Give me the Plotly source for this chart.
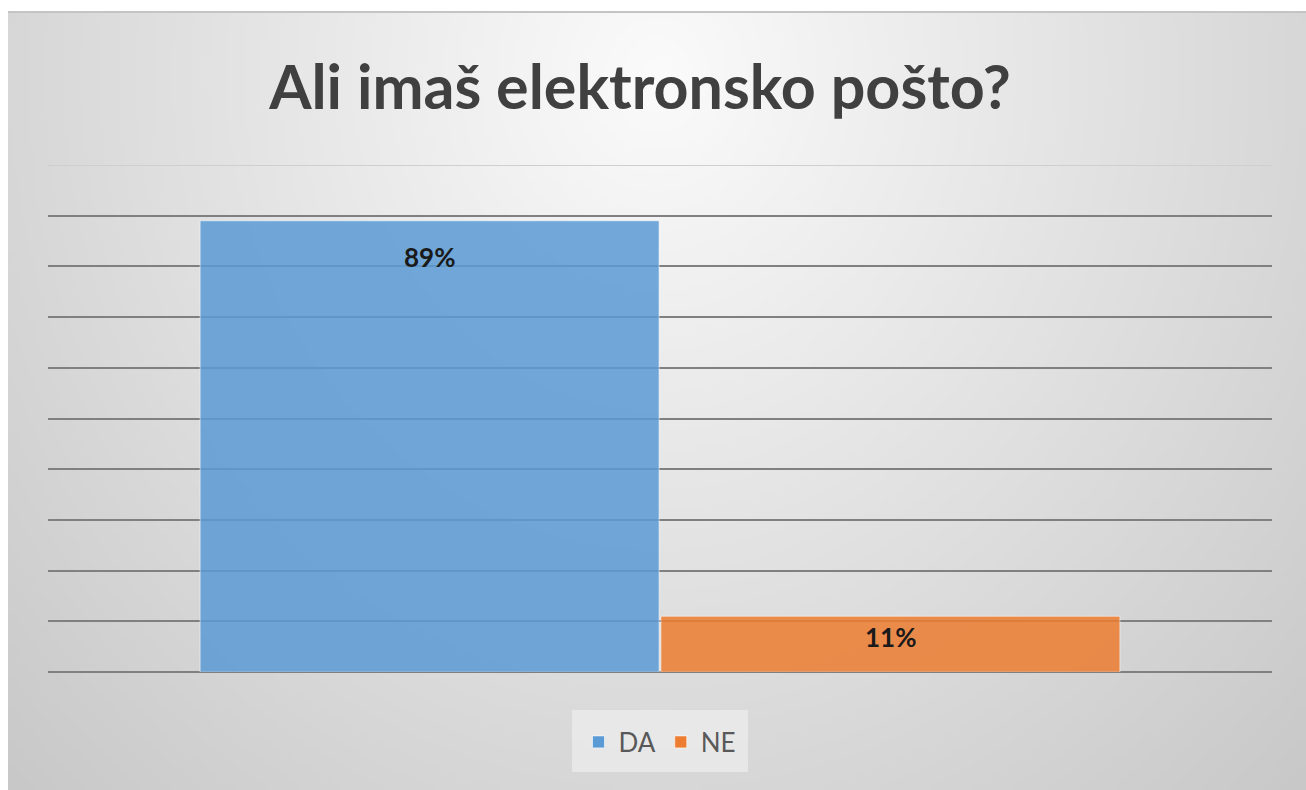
import base64
import struct
import zlib

import numpy as np
import plotly.graph_objects as go

# ---------------- data ----------------
categories = ["DA", "NE"]
values = [0.89, 0.11]
value_labels = ["89%", "11%"]
bar_colors = ["#5B9BD5", "#ED7D31"]
group_name = "Odgovor"
title_text = "Ali imaš elektronsko pošto?"

# ---------------- layout constants ----------------
W, H = 1306, 790
ml, mr, mt, mb = 48, 34, 165, 118
plot_w = W - ml - mr
plot_h = H - mt - mb
bargap = 0.247
label_offsets = [36, 21]  # px below bar top


def px_to_paper_x(px):
    return (px - ml) / plot_w


def px_to_paper_y(py):
    return (H - mb - py) / plot_h


def png_data_uri(arr):
    h, w, _ = arr.shape
    raw = b"".join(b"\x00" + arr[y].tobytes() for y in range(h))

    def chunk(t, d):
        c = struct.pack(">I", len(d)) + t + d
        return c + struct.pack(">I", zlib.crc32(t + d) & 0xFFFFFFFF)

    png = (
        b"\x89PNG\r\n\x1a\n"
        + chunk(b"IHDR", struct.pack(">IIBBBBB", w, h, 8, 2, 0, 0, 0))
        + chunk(b"IDAT", zlib.compress(raw, 9))
        + chunk(b"IEND", b"")
    )
    return "data:image/png;base64," + base64.b64encode(png).decode()


# radial grey gradient for the chart frame background
gw, gh = 330, 200
u = (np.arange(gw) + 0.5) / gw
v = (np.arange(gh) + 0.5) / gh
U, V = np.meshgrid(u, v)
d = np.sqrt(((U - 0.5) / 0.5) ** 2 + ((V - 0.08) / 0.92) ** 2)
val = np.clip(251 - 36 * d, 190, 252).astype(np.uint8)
grad = np.stack([val, val, val], axis=-1)
bg_uri = png_data_uri(grad)

frame_x0, frame_y0 = 8, 12

fig = go.Figure()
for cat, v_, col in zip(categories, values, bar_colors):
    fig.add_trace(
        go.Bar(
            name=cat,
            x=[group_name],
            y=[v_],
            marker=dict(color=col, opacity=0.85,
                        line=dict(color="rgba(255,255,255,0.6)", width=1)),
            hoverinfo="name+y",
        )
    )

n = len(categories)
bar_px = plot_w * (1 - bargap) / n
annotations = []
for i, (v_, lab) in enumerate(zip(values, value_labels)):
    annotations.append(
        dict(
            x=group_name, xref="x", y=v_, yref="y",
            text=lab, showarrow=False,
            xshift=(i - (n - 1) / 2) * bar_px,
            yshift=-label_offsets[i], yanchor="middle",
            font=dict(family="Lato", size=26, color="#1a1a1a", weight="bold"),
        )
    )

yticks = [i / 10 for i in range(1, 10)]

fig.update_layout(
    width=W, height=H,
    margin=dict(l=ml, r=mr, t=mt, b=mb, pad=0),
    paper_bgcolor="white",
    plot_bgcolor="rgba(0,0,0,0)",
    barmode="group",
    bargap=bargap,
    bargroupgap=0.004,
    title=dict(
        text=title_text,
        x=640 / W, xanchor="center", xref="container",
        y=1 - 88 / H, yanchor="middle", yref="container",
        font=dict(family="Lato", size=61, color="#404040", weight="bold"),
    ),
    xaxis=dict(showticklabels=False, showgrid=False, zeroline=False, showline=False),
    yaxis=dict(range=[0, 1], tickvals=yticks, showticklabels=False,
               showgrid=True, gridcolor="#808080", gridwidth=2,
               zeroline=True, zerolinecolor="#808080", zerolinewidth=2,
               showline=False),
    showlegend=True,
    legend=dict(
        orientation="h", x=0.5, xanchor="center",
        y=px_to_paper_y(742), yanchor="middle",
        font=dict(family="Lato", size=26, color="#595959"),
        bgcolor="rgba(0,0,0,0)",
    ),
    annotations=annotations,
    images=[dict(
        source=bg_uri, xref="paper", yref="paper",
        x=px_to_paper_x(frame_x0), y=px_to_paper_y(frame_y0),
        sizex=(W - frame_x0) / plot_w, sizey=(H - frame_y0) / plot_h,
        xanchor="left", yanchor="top", sizing="stretch", layer="below",
    )],
    shapes=[
        # top gridline at the axis max (lighter in the reference)
        dict(type="line", xref="paper", yref="y", x0=0, x1=1, y0=1, y1=1,
             line=dict(color="#cfcfcf", width=2), layer="below"),
        # frame top border
        dict(type="line", xref="paper", yref="paper",
             x0=px_to_paper_x(frame_x0), x1=px_to_paper_x(W),
             y0=px_to_paper_y(frame_y0), y1=px_to_paper_y(frame_y0),
             line=dict(color="#c4c4c4", width=2), layer="below"),
        # legend box
        dict(type="rect", xref="paper", yref="paper",
             x0=px_to_paper_x(572), x1=px_to_paper_x(748),
             y0=px_to_paper_y(772), y1=px_to_paper_y(710),
             fillcolor="rgba(236,236,236,0.75)", line=dict(width=0), layer="below"),
    ],
)

fig.write_html("out.html")
